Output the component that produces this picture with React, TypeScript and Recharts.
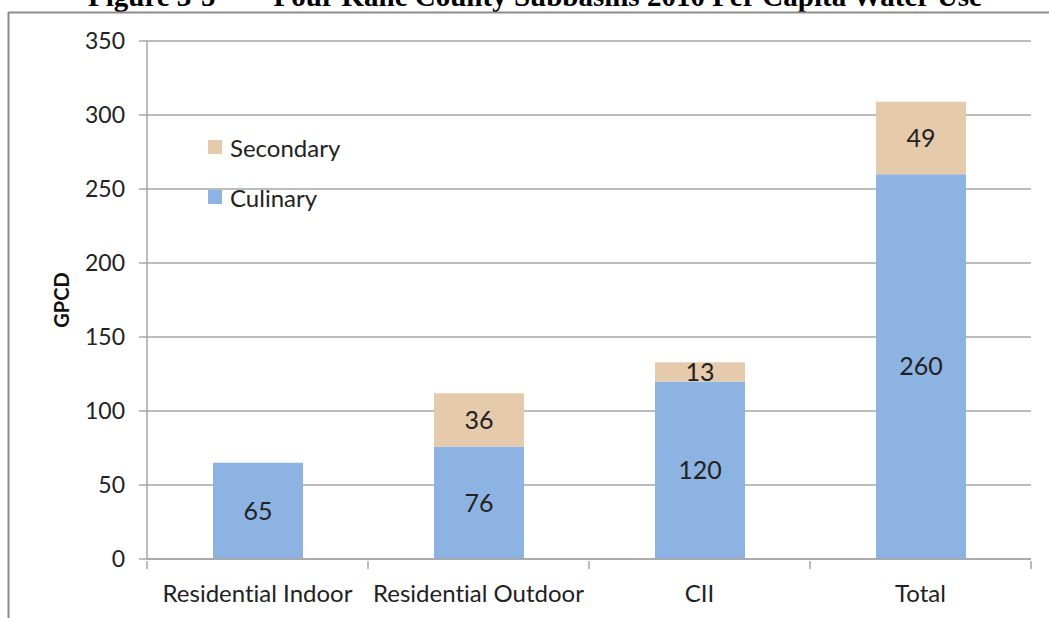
import React from "react";
import { BarChart, Bar, XAxis, YAxis, CartesianGrid, Legend, LabelList } from "recharts";

const categories = ["Residential Indoor", "Residential Outdoor", "CII", "Total"];
const culinary = [65, 76, 120, 260];
const secondary = [0, 36, 13, 49];
const yTicks = [0, 50, 100, 150, 200, 250, 300, 350];

const data = categories.map((name, i) => ({ name, culinary: culinary[i], secondary: secondary[i] }));

const FONT = "Lato, 'Open Sans', sans-serif";
const BLUE = "#8DB3E2";
const TAN = "#E6CAAC";
const GRID = "#A6A6A6";
const noLig = { fontVariantLigatures: "none" as const };

function CategoryTick(props: any) {
    const { x, y, payload, index } = props;
    const half = payload && payload.offset ? payload.offset : 110.5;
    return <g>
        <line x1={x - half} x2={x - half} y1={y} y2={y + 8} stroke={GRID} strokeWidth={1.5} />
        {index === categories.length - 1 &&
            <line x1={x + half} x2={x + half} y1={y} y2={y + 8} stroke={GRID} strokeWidth={1.5} />}
        <text x={x} y={y + 41} textAnchor="middle" fontSize={24} fontFamily={FONT} fill="#222" style={noLig}>{payload.value}</text>
    </g>
}

function LegendBox() {
    const items = [{ label: "Secondary", color: TAN }, { label: "Culinary", color: BLUE }];
    return <div style={{ fontFamily: FONT, fontSize: 24, color: "#222", ...noLig }}>
        {items.map((it) =>
            <div key={it.label} style={{ display: "flex", alignItems: "center", height: 50 }}>
                <span style={{ width: 14, height: 14, background: it.color, display: "inline-block", marginRight: 8 }} />
                {it.label}
            </div>
        )}
    </div>
}

const hideZero = (v: any) => (v ? v : "");

export default function App() {
    return <div style={{ position: "absolute", left: 0, top: 0, width: 1049, height: 618, overflow: "hidden", background: "#fff" }}>
        <svg width={1049} height={618} style={{ position: "absolute", left: 0, top: 0 }}>
            <text x={535} y={6} textAnchor="middle" fontSize={29} fontWeight="bold" fontFamily="'Liberation Serif', 'Times New Roman', serif" fill="#000">
                Figure 3-5{"\u00a0\u00a0\u00a0\u00a0\u00a0\u00a0\u00a0\u00a0"}Four Kane County Subbasins 2010 Per Capita Water Use
            </text>
            <line x1={8.5} x2={8.5} y1={12} y2={618} stroke="#8c8c8c" strokeWidth={2} />
            <line x1={8} x2={1049} y1={12.5} y2={12.5} stroke="#8c8c8c" strokeWidth={2} />
        </svg>
        <div style={{ position: "absolute", left: 0, top: 0 }}>
            <BarChart width={1049} height={618} data={data} margin={{ top: 41, right: 18, bottom: 19, left: 67 }} barSize={90}>
                <CartesianGrid vertical={false} stroke={GRID} strokeWidth={1.5} />
                <XAxis
                    dataKey="name"
                    height={40}
                    tickLine={false}
                    tickSize={0}
                    axisLine={{ stroke: GRID, strokeWidth: 1.5 }}
                    tick={<CategoryTick />}
                    interval={0}
                />
                <YAxis
                    width={80}
                    domain={[0, 350]}
                    ticks={yTicks}
                    interval={0}
                    tickSize={8}
                    tickMargin={14}
                    tickLine={{ stroke: GRID, strokeWidth: 1.5 }}
                    axisLine={{ stroke: GRID, strokeWidth: 1.5 }}
                    tick={{ fontSize: 23, fontFamily: FONT, fill: "#222" }}
                    label={{ value: "GPCD", angle: -90, position: "insideLeft", offset: -5, style: { fontSize: 20, fontWeight: "bold", fontFamily: FONT, fill: "#111", textAnchor: "middle" } }}
                />
                <Legend
                    layout="vertical"
                    verticalAlign="middle"
                    align="center"
                    content={<LegendBox />}
                    wrapperStyle={{ position: "absolute", left: 208, top: 122, width: 200 }}
                />
                <Bar dataKey="culinary" stackId="a" fill={BLUE} isAnimationActive={false}>
                    <LabelList dataKey="culinary" position="center" fontSize={25} fontFamily={FONT} fill="#222" formatter={hideZero} />
                </Bar>
                <Bar dataKey="secondary" stackId="a" fill={TAN} isAnimationActive={false}>
                    <LabelList dataKey="secondary" position="center" fontSize={25} fontFamily={FONT} fill="#222" formatter={hideZero} />
                </Bar>
            </BarChart>
        </div>
    </div>
}
